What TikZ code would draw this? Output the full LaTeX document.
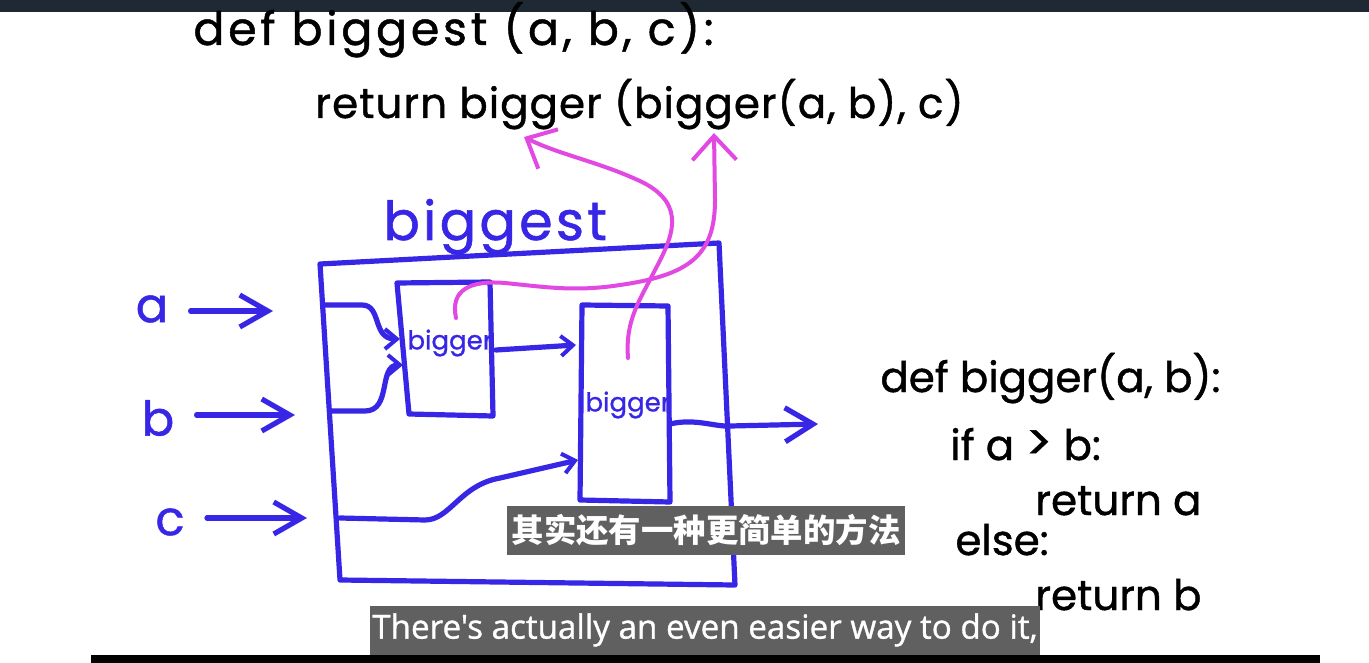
\documentclass[tikz,border=0pt]{standalone}
\usepackage{fontspec}
\setmainfont{Open Sans}[FakeBold=1]
\newfontfamily\subfont{Open Sans}[FakeBold=1]
\newfontfamily\handfont{Poppins}[FakeBold=1]
\newfontfamily\handwide{Poppins}[FakeBold=1, LetterSpace=6]
\newfontfamily\cjk{Noto Sans CJK SC}
\usetikzlibrary{arrows.meta,calc}

\definecolor{penblue}{RGB}{56,38,230}
\definecolor{penpink}{RGB}{226,72,226}
\definecolor{subgray}{RGB}{96,96,96}
\definecolor{topbar}{RGB}{31,41,51}

\begin{document}
\begin{tikzpicture}[x=0.5pt, y=-0.5pt,
  code/.style={font=\handfont\fontsize{21}{25}\selectfont, inner sep=0pt, anchor=base west},
  bluetext/.style={font=\handfont\fontsize{24}{28}\selectfont, inner sep=0pt, text=penblue},
  smalltext/.style={font=\handfont\fontsize{13}{15}\selectfont, inner sep=0pt, text=penblue},
  wire/.style={draw=penblue, line width=2.6pt, line cap=round, line join=round},
  inarr/.style={wire, -{Straight Barb[length=14pt, width=16pt, line width=2.6pt]}},
  tinyarr/.style={wire, -{Straight Barb[length=6pt, width=10pt, line width=2pt]}},
  pinkarr/.style={draw=penpink, line width=2pt, line cap=round, -{Straight Barb[length=12pt, width=22pt, line width=2pt]}},
  sub/.style={fill=subgray, text=white, inner sep=0pt}]
\useasboundingbox (0,0) rectangle (1369,663);
\fill[white] (0,0) rectangle (1369,663);
\fill[topbar] (0,0) rectangle (1369,12);
\fill[black] (91,655) rectangle (1320,663);

% code at the top
\node[code, font=\handwide\fontsize{23}{27}\selectfont\addfontfeatures{LetterSpace=8}] (defbig) at (193,45) {def biggest (a, b, c):};
\node[code, font=\handfont\fontsize{21}{25}\selectfont\addfontfeatures{LetterSpace=2.5}] (ret) at (315,118) {return bigger (bigger(a, b), c)};

% the biggest box
\node[bluetext, anchor=base west, font=\handwide\fontsize{27}{31}\selectfont] (title) at (383,240) {biggest};
\coordinate (o1) at (320,264);
\coordinate (o2) at (719,243);
\coordinate (o3) at (735,585);
\coordinate (o4) at (340,580);
\draw[wire] (o1) -- (o2) -- (o3) -- (o4) -- cycle;

% inner boxes
\coordinate (p1) at (397,283);
\coordinate (p2) at (490,282);
\coordinate (p3) at (493,416);
\coordinate (p4) at (409,414);
\draw[wire] (p1) -- (p2) -- (p3) -- (p4) -- cycle;
\node[smalltext] (big1) at (450,343) {bigger};
\coordinate (q1) at (582,305);
\coordinate (q2) at (668,306);
\coordinate (q3) at (670,502);
\coordinate (q4) at (580,500);
\draw[wire] (q1) -- (q2) -- (q3) -- (q4) -- cycle;
\node[smalltext] (big2) at (628,405) {bigger};

% inputs
\node[bluetext] (a) at (152,309) {a};
\node[bluetext] (b) at (158,418) {b};
\node[bluetext] (c) at (170,522) {c};
\coordinate (ia) at (273,311);
\coordinate (ib) at (295,415);
\coordinate (ic) at (307,518);
\draw[inarr, shorten <=11pt] (a.east |- ia) -- (ia);
\draw[inarr, shorten <=11pt] (b.east |- ib) -- (ib);
\draw[inarr, shorten <=11pt] (c.east |- ic) -- (ic);

% wiring inside
\coordinate (wa) at (323,305);
\coordinate (wb) at (330,411);
\coordinate (wc) at (340,518);
\coordinate (ka) at (400,339);
\coordinate (kb) at (403,365);
\coordinate (kc) at (578,460);
\draw[tinyarr] (wa) -- (362,305) .. controls (382,305) and (372,339) .. (ka);
\draw[tinyarr] (wb) -- (365,411) .. controls (392,411) and (378,365) .. (kb);
\draw[tinyarr] (wc) -- (425,520) .. controls (450,520) and (460,485) .. (500,478) -- (kc);
\coordinate (m1) at (496,350);
\coordinate (m2) at (576,345);
\draw[tinyarr] (m1) -- (m2);
\coordinate (out1) at (670,424);
\coordinate (out2) at (818,424);
\draw[wire, -{Straight Barb[length=14pt, width=17pt, line width=2.6pt]}] (out1) .. controls (695,418) and (715,427) .. (730,426) -- (out2);

% code for bigger
\node[code] (defsmall) at (880,392) {def bigger(a, b):};
\node[code] (ifline) at (950,460) {if a {\fontsize{25}{25}\selectfont >} b:};
\node[code] (reta) at (1035,515) {return a};
\node[code] (elseline) at (955,555) {else:};
\node[code] (retb) at (1035,610) {return b};

% which call is which
\coordinate (s1) at (456,318);
\coordinate (t1) at (714,133);
\draw[pinkarr] (s1) .. controls (450,290) and (470,280) .. (505,283)
  .. controls (545,287) and (575,292) .. (620,285)
  .. controls (690,275) and (715,255) .. (715,200) -- (t1);
\coordinate (s2) at (628,358);
\coordinate (t2) at (524,137);
\draw[pinkarr] (s2) .. controls (625,320) and (640,300) .. (655,270)
  .. controls (672,238) and (688,205) .. (642,182)
  .. controls (600,162) and (560,155) .. (t2);

% subtitles
\node[sub, minimum width=199pt, minimum height=24.5pt, font=\cjk\bfseries\fontsize{16.2}{18}\selectfont] (subzh) at (706,530) {其实还有一种更简单的方法};
\node[sub, minimum width=335pt, minimum height=24.5pt, font=\subfont\fontsize{16.6}{20}\selectfont] (suben) at (705,630) {There's actually an even easier way to do it,};
\end{tikzpicture}
\end{document}
